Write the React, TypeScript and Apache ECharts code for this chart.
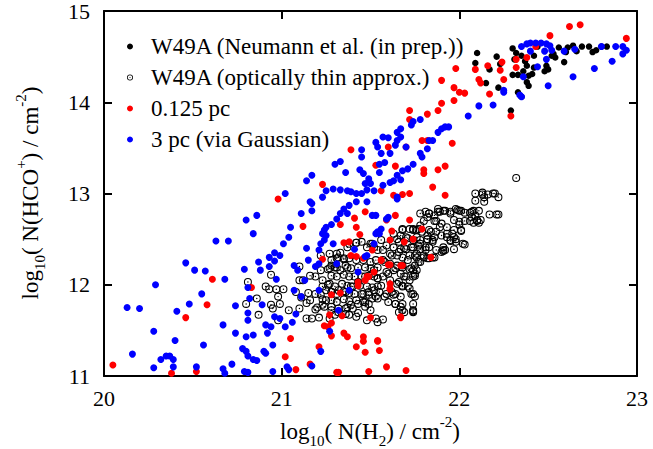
import React, { useEffect, useRef } from "react";
import * as echarts from "echarts";

// ---- data (log10 N(H2), log10 N(HCO+)) ----
const w49aNeumann: number[][] = [
  [22.10,14.54],[22.09,14.43],[22.17,14.36],[22.21,14.50],[22.23,14.42],[22.15,14.21],[22.22,14.16],[22.30,14.59],
  [22.32,14.54],[22.31,14.47],[22.35,14.51],[22.37,14.45],[22.38,14.40],[22.36,14.34],[22.33,14.30],[22.30,14.30],
  [22.39,14.29],[22.41,14.31],[22.38,14.22],[22.39,14.18],[22.33,14.11],[22.35,14.06],[22.29,13.91],[22.42,14.38],
  [22.42,14.51],[22.44,14.61],[22.49,14.40],[22.48,14.34],[22.50,14.36],[22.52,14.51],[22.54,14.49],[22.56,14.60],
  [22.59,14.44],[22.60,14.55],[22.64,14.62],[22.66,14.56],[22.69,14.61],[22.73,14.61],[22.75,14.55],[22.77,14.57],
  [22.80,14.61],[22.83,14.61],[22.53,14.53],[22.61,14.60]
];

const w49aThin: number[][] = [
  [20.81,12.03],[20.80,11.79],[20.86,11.85],[20.87,11.67],[20.91,11.98],[20.93,11.95],[20.94,11.78],[20.95,11.74],
  [20.97,11.95],[20.98,11.87],[20.98,11.61],[21.01,11.95],[21.04,11.72],[21.08,11.92],[21.10,12.20],[21.10,12.05],
  [21.10,11.74],[21.11,11.86],[21.14,11.63],[21.14,11.80],[21.15,11.91],[21.16,11.83],[21.17,11.63],[21.19,11.90],
  [21.19,11.73],[21.21,11.64],[21.22,12.16],[21.22,12.32],[21.23,11.98],[21.23,11.84],[21.23,11.78],[21.24,11.76],
  [21.26,12.17],[20.94,12.11],[20.99,11.79],[21.12,12.05],[21.16,12.10],[21.19,12.09],[21.20,11.75],[21.23,12.05],
  [21.25,11.94],[21.22,11.89],[21.25,11.83],[21.27,11.63],
  [21.27,12.34],[21.31,12.34],[21.33,12.35],[21.37,12.41],[21.38,12.45],[21.42,12.46],[21.45,12.47],[21.48,12.41],
  [21.51,12.45],[21.52,12.41],[21.54,12.38],
  [21.28,12.27],[21.31,12.29],[21.35,12.28],[21.38,12.29],[21.42,12.27],[21.46,12.27],[21.50,12.25],[21.53,12.27],
  [21.27,12.18],[21.30,12.19],[21.33,12.16],[21.37,12.19],[21.39,12.18],[21.43,12.19],[21.47,12.19],[21.50,12.18],
  [21.52,12.16],[21.54,12.19],
  [21.28,12.10],[21.31,12.09],[21.35,12.11],[21.38,12.09],[21.41,12.09],[21.45,12.09],[21.49,12.10],[21.52,12.09],
  [21.54,12.07],
  [21.27,12.01],[21.30,11.98],[21.34,12.01],[21.37,11.99],[21.40,11.98],[21.44,11.99],[21.48,11.98],[21.51,11.97],
  [21.54,11.98],
  [21.28,11.92],[21.31,11.90],[21.35,11.93],[21.38,11.91],[21.41,11.90],[21.46,11.90],[21.49,11.89],[21.53,11.87],
  [21.28,11.83],[21.31,11.81],[21.35,11.84],[21.38,11.82],[21.42,11.83],[21.46,11.81],[21.49,11.79],
  [21.28,11.76],[21.32,11.74],[21.37,11.75],[21.40,11.74],[21.43,11.69],[21.47,11.76],[21.50,11.72],
  [21.30,11.67],[21.36,11.68],[21.38,11.67],[21.42,11.65],[21.48,11.61],[21.54,11.59],
  [22.09,13.00],[22.13,13.01],[22.16,12.99],[22.20,13.00],[22.22,12.96],[22.14,12.96],[22.09,12.92],[22.17,12.77],
  [22.22,12.77],[22.32,13.17],
  [21.88,12.83],[21.89,12.80],[21.92,12.81],[21.95,12.80],[21.99,12.82],[22.00,12.81],[22.03,12.79],[22.06,12.79],
  [22.07,12.80],[22.09,12.76],[22.06,12.70],[22.08,12.68],[22.11,12.68],[22.03,12.70],[22.00,12.66],[22.01,12.59],
  [21.97,12.52],[21.98,12.47],[21.96,12.56],[21.93,12.52],[21.91,12.41],[21.91,12.38],[22.03,12.44],[21.95,12.48],
  [21.78,12.78],[21.81,12.80],[21.83,12.78],[21.86,12.70],[21.89,12.63],[21.84,12.58],[21.82,12.54],[21.78,12.65],
  [21.76,12.60],[21.72,12.61],[21.68,12.61],[21.67,12.54],[21.65,12.50],[21.66,12.47],[21.70,12.52],[21.74,12.49],
  [21.78,12.49],[21.82,12.50],[21.85,12.49],[21.87,12.38],[21.83,12.41],[21.81,12.38],[21.78,12.39],[21.74,12.41],
  [21.70,12.39],[21.67,12.39],[21.63,12.41],[21.59,12.43],[21.57,12.38],[21.61,12.34],[21.65,12.32],[21.68,12.30],
  [21.72,12.32],[21.76,12.30],[21.80,12.30],[21.83,12.29],[21.86,12.30],
  [21.57,12.27],[21.61,12.23],[21.65,12.21],[21.68,12.19],[21.72,12.17],[21.76,12.16],[21.67,12.12],[21.70,12.09],
  [21.74,12.09],[21.63,12.16],[21.59,12.14],[21.57,12.09],[21.61,12.05],[21.65,12.01],[21.68,11.99],[21.72,12.05],
  [21.75,12.12],[21.78,12.25],
  [21.55,11.92],[21.59,11.90],[21.63,11.89],[21.67,11.87],[21.72,11.96],[21.73,11.90],[21.75,11.87],[21.64,11.79],
  [21.67,11.76],[21.68,11.72],[21.66,11.70],[21.74,11.79],[21.74,11.70],[21.53,11.63],[21.57,11.62],
  [22.14,12.91],[22.02,12.45],[21.97,12.39],[21.91,12.37],[21.74,11.71],[22.10,12.70],[22.07,12.74],[22.08,12.81],
  [21.32,12.30],[21.35,12.29],[21.28,12.21],[21.31,12.19],[21.36,12.21],[21.58,12.25],[21.62,12.32],[21.66,12.36],
  [21.69,12.40],[21.73,12.41],[21.77,12.43],[21.75,12.32],[21.71,12.27],[21.68,12.21],[21.64,12.18],[21.60,12.12],
  [21.73,12.18],[21.77,12.25],[21.75,12.10],[21.69,12.09],[21.66,12.03],[21.62,11.92],[21.58,11.87],[21.54,11.85],
  [21.51,11.85],[21.47,11.81],[21.43,11.79],[21.39,11.78],[21.36,11.74],[21.32,11.70],[21.28,11.72],[21.26,12.00],
  [21.28,11.92],[21.32,11.94],[21.36,11.92],[21.39,11.98],[21.43,12.03],[21.47,12.09],[21.51,12.12],[21.54,12.07],
  [21.56,11.99],[21.52,11.94],[21.49,11.92],[21.45,11.90],[21.60,11.81],[21.64,11.79],[21.68,11.79],[21.74,11.72],
  [21.69,11.70],[21.64,11.90],[21.68,11.98],[21.71,11.98],[21.74,11.90],
  [21.68,12.60],[21.74,12.60],[21.77,12.61],[21.63,12.56],[21.56,12.49],[21.50,12.45],[21.42,12.46],[21.71,12.51],
  [21.76,12.52],
  [22.13,12.99],[22.19,13.00],[22.21,12.77],[22.11,12.81],[22.10,12.71],[22.12,12.71],[21.98,12.83],[22.01,12.81],
  [21.97,12.71],[22.00,12.69],[21.95,12.78],[21.91,12.81],[21.88,12.80],[21.86,12.76],[21.83,12.78],[21.82,12.74],
  [21.80,12.70],[21.87,12.70],[21.90,12.67],[21.93,12.63],[21.97,12.60],[22.01,12.60],[21.98,12.50],[21.95,12.49],
  [21.92,12.38],[21.90,12.36],[21.85,12.47],[21.82,12.50],[21.79,12.58],[21.74,12.61],[21.78,12.45],[21.81,12.41],
  [21.76,12.34],[21.80,12.32],[21.82,12.29],[21.85,12.30],[21.75,12.21],[21.74,12.16],[21.83,12.60],[21.87,12.58],
  [21.90,12.54],[21.86,12.52],[21.93,12.56]
];

const res0125pc: number[][] = [
  [22.62,14.83],[22.68,14.85],[22.51,14.73],[22.94,14.70],[22.43,14.61],[22.38,14.49],[22.32,14.47],[22.32,14.38],
  [22.24,14.44],[22.23,14.35],[22.16,14.40],[22.09,14.36],[21.98,14.37],[21.90,14.24],[22.11,14.25],[22.12,14.21],
  [22.17,14.09],[22.25,14.25],[21.97,14.16],[22.00,14.11],[22.03,14.10],[21.97,14.02],[21.90,13.99],[21.88,13.91],
  [21.82,13.87],[21.72,13.91],[22.29,13.85],
  [21.39,13.48],[21.60,13.51],[21.53,13.31],[21.64,13.30],[21.23,13.10],[21.56,13.03],[21.63,12.98],[21.72,13.81],
  [21.96,13.55],[21.92,13.30],[21.88,13.26],[21.79,13.58],[21.82,13.58],[21.70,13.51],[21.80,13.22],[21.80,13.26],
  [21.85,13.07],[21.92,12.98],[21.72,13.00],[21.68,12.99],
  [20.98,12.94],
  [20.05,11.12],[20.38,11.03],[20.46,11.64],[20.52,11.05],[20.58,11.78],[20.61,12.06],[20.83,11.97],[21.02,11.21],
  [21.05,11.41],[21.08,11.07],[21.12,12.64],[21.16,11.13],[21.23,12.28],[21.21,11.32],[21.24,11.55],
  [21.33,12.66],[21.41,12.73],[21.42,12.63],[21.44,12.55],[21.47,12.80],[21.35,12.46],[21.38,12.47],[21.39,12.32],
  [21.42,12.31],[21.46,12.29],[21.51,12.38],[21.52,12.14],[21.48,12.09],[21.47,12.05],[21.43,12.03],[21.43,11.99],
  [21.33,11.91],[21.28,11.89],[21.27,11.67],[21.28,11.58],[21.34,11.66],[21.50,11.64],[21.26,11.54],[21.28,11.44],
  [21.37,11.43],[21.42,11.32],[21.46,11.43],[21.46,11.38],[21.47,11.26],[21.54,11.38],[21.31,11.04],[21.32,11.04],
  [21.49,11.05],[21.55,11.28],[21.54,11.39],[21.59,11.10],[21.70,11.06],[21.35,11.47],
  [21.64,12.76],[21.72,12.71],[21.59,12.71],[21.62,12.59],[21.79,12.61],[21.74,12.50],[21.69,12.47],[21.61,12.49],
  [21.84,12.30],[21.56,12.27],[21.61,12.22],[21.68,12.21],[21.61,12.01],[21.61,11.96],[21.67,11.64],
  [21.56,12.27],[21.60,12.22],[21.67,12.21],[21.49,12.09],[21.61,11.95],[21.67,11.65]
];

const res3pc: number[][] = [
  [22.35,14.61],[22.38,14.64],[22.40,14.65],[22.43,14.65],[22.46,14.65],[22.49,14.64],[22.51,14.62],[22.52,14.57],
  [22.40,14.56],[22.48,14.56],[22.49,14.47],[22.44,14.39],[22.36,14.28],[22.50,14.18],[22.64,14.28],[22.59,14.56],
  [22.65,14.58],[22.76,14.37],[22.80,14.61],[22.86,14.45],[22.88,14.61],[22.92,14.61],[22.92,14.53],[22.94,14.57],
  [22.25,14.13],[22.25,14.11],[22.34,14.08],[22.35,14.06],[22.19,13.97],[22.11,13.96],[22.05,13.85],
  [21.30,13.32],[21.33,13.35],[21.36,13.23],[21.45,13.48],[21.45,13.40],[21.44,13.26],[21.46,13.22],[21.49,13.16],
  [21.50,13.11],[21.47,13.11],[21.53,13.56],[21.54,13.51],[21.57,13.62],[21.60,13.61],[21.56,13.44],[21.61,13.44],
  [21.55,13.32],[21.58,13.34],[21.55,13.23],[21.65,13.20],[21.63,13.14],[21.25,13.03],[21.29,13.05],[21.33,13.04],
  [21.37,13.03],[21.39,13.02],[21.42,13.00],[21.45,13.00],[21.48,13.04],[21.52,13.03],[21.57,13.09],[21.61,13.12],
  [21.67,13.15],
  [21.74,13.79],[21.78,13.81],[21.67,13.71],[21.65,13.67],[21.67,13.62],[21.65,13.58],[21.64,13.53],[21.70,13.51],
  [21.73,13.75],[21.88,13.67],[21.90,13.71],[21.92,13.73],[21.94,13.73],[21.85,13.58],[21.83,13.58],[21.82,13.49],
  [21.78,13.44],[21.79,13.40],[21.74,13.32],[21.71,13.27],[21.68,13.25],[21.65,12.96],
  [21.17,13.20],[21.14,13.14],
  [21.51,12.76],[21.53,12.76],[21.60,12.74],[21.48,12.91],[21.65,12.94],
  [21.28,12.66],[21.31,12.72],[21.33,12.78],[21.35,12.83],[21.38,12.87],[21.42,12.91],[21.37,12.78],[21.29,12.45],
  [21.31,12.23],[21.38,11.94],[21.43,12.14],[21.41,12.39],[21.48,12.32],[21.52,12.45],[21.53,12.56],[21.54,12.58],
  [21.32,11.72],[21.27,11.49],[21.47,12.31],
  [21.59,12.72],[21.55,12.56],[21.56,12.61],
  [21.23,12.56],[21.24,12.60],[21.25,12.54],[21.24,12.49],[21.22,12.45],[21.21,12.38],[21.25,12.63],[21.19,12.20],
  [21.21,12.23],
  [20.13,11.75],[20.20,11.74],[20.29,12.00],[20.28,11.49],[20.16,11.24],[20.28,11.09],[20.32,11.18],[20.35,11.22],
  [20.37,11.22],[20.39,11.18],[20.39,11.10],[20.40,11.39],[20.41,11.71],[20.46,12.24],[20.48,11.79],[20.51,12.16],
  [20.52,11.10],[20.56,11.34],[20.55,11.90],[20.57,12.15],[20.63,12.48],[20.67,11.56],[20.67,11.08],[20.68,11.03],
  [20.68,12.06],[20.70,12.48],[20.72,11.13],[20.74,11.77],[20.74,11.47],[20.78,11.30],[20.79,12.17],[20.80,12.71],
  [20.81,11.97],[20.80,11.43],[20.81,11.61],[20.81,11.69],[20.80,11.27],[20.81,11.22],[20.79,11.05],[20.81,11.04],
  [20.82,11.85],[20.84,12.56],[20.86,12.76],[20.84,11.45],[20.84,11.18],[20.86,11.17],[20.87,12.25],[20.88,12.16],
  [20.89,11.78],[20.90,11.27],[20.91,11.56],[20.91,11.25],[20.92,11.47],[20.93,12.20],[20.93,12.30],[20.94,11.54],
  [20.95,11.05],[20.95,11.34],[20.96,11.65],[20.96,12.35],[20.96,12.26],[20.97,12.06],[20.99,12.32],[20.99,11.63],
  [21.01,12.45],[21.02,11.54],[21.02,13.00],[21.03,11.10],[21.04,11.07],[21.04,12.52],[21.05,12.63],[21.06,11.59],
  [21.07,11.94],[21.07,12.21],[21.08,11.68],[21.09,12.16],[21.11,12.78],[21.11,11.87],[21.13,12.05],[21.14,12.40],
  [21.15,12.27],[21.16,12.91],[21.17,12.89],[21.17,12.81],[21.17,11.11],[21.22,11.27],[21.23,12.96],[21.21,11.94]
];

const xTicks = { min: 20, max: 23, interval: 1 };
const yTicks = { min: 11, max: 15, interval: 1 };
const seriesNames = [
  "W49A (Neumann et al. (in prep.))",
  "W49A (optically thin approx.)",
  "0.125 pc",
  "3 pc (via Gaussian)",
];

const FONT = "'Liberation Serif', 'Times New Roman', 'DejaVu Serif', serif";
const RING =
  "path://M0,10A10,10,0,1,0,20,10A10,10,0,1,0,0,10ZM2.6,10A7.4,7.4,0,1,1,17.4,10A7.4,7.4,0,1,1,2.6,10ZM8.2,10A1.8,1.8,0,1,0,11.8,10A1.8,1.8,0,1,0,8.2,10Z";

const rich = {
  a: { fontFamily: FONT, fontSize: 23, lineHeight: 34, fill: "#000", color: "#000" },
  b: { fontFamily: FONT, fontSize: 15, lineHeight: 15, verticalAlign: "bottom", fill: "#000", color: "#000" },
  c: { fontFamily: FONT, fontSize: 15, lineHeight: 15, verticalAlign: "top", fill: "#000", color: "#000" },
};

export default function App() {
  const ref = useRef<HTMLDivElement>(null);
  useEffect(() => {
    if (!ref.current) return;
    const chart = echarts.init(ref.current, undefined, { renderer: "svg" });
    const axisCommon = {
      type: "value" as const,
      axisLine: { show: true, onZero: false, lineStyle: { color: "#000", width: 2 } },
      axisTick: { show: true, inside: true, length: 8, lineStyle: { color: "#000", width: 2 } },
      splitLine: { show: false },
    };
    chart.setOption({
      animation: false,
      backgroundColor: "#fff",
      textStyle: { fontFamily: FONT },
      grid: { left: 104, top: 10, right: 16, bottom: 73 },
      xAxis: [
        {
          ...axisCommon,
          ...xTicks,
          position: "bottom",
          axisLabel: { color: "#000", fontFamily: FONT, fontSize: 22, margin: 11 },
        },
        { ...axisCommon, ...xTicks, position: "top", axisLabel: { show: false } },
      ],
      yAxis: [
        {
          ...axisCommon,
          ...yTicks,
          position: "left",
          axisLabel: { color: "#000", fontFamily: FONT, fontSize: 22, margin: 14 },
        },
        { ...axisCommon, ...yTicks, position: "right", axisLabel: { show: false } },
      ],
      legend: {
        orient: "vertical",
        left: 127,
        top: 35,
        padding: 0,
        itemWidth: 32,
        itemHeight: 6,
        itemGap: 8,
        textStyle: { fontFamily: FONT, fontSize: 23, color: "#000", lineHeight: 23 },
        data: seriesNames,
      },
      graphic: [
        {
          type: "text",
          x: 370,
          y: 431,
          style: {
            text: "{a|log}{b|10}{a|( N(H}{b|2}{a|) / cm}{c|-2}{a|)}",
            rich,
            font: "23px " + FONT,
            align: "center",
            verticalAlign: "middle",
          },
        },
        {
          type: "text",
          x: 30,
          y: 193,
          rotation: Math.PI / 2,
          style: {
            text: "{a|log}{b|10}{a|( N(HCO}{c|+}{a|) / cm}{c|-2}{a|)}",
            rich,
            font: "23px " + FONT,
            align: "center",
            verticalAlign: "middle",
          },
        },
      ],
      series: [
        {
          name: seriesNames[0],
          type: "scatter",
          data: w49aNeumann,
          symbol: "circle",
          symbolSize: 6.5,
          itemStyle: { color: "#000", opacity: 1 },
        },
        {
          name: seriesNames[1],
          type: "scatter",
          data: w49aThin,
          symbol: RING,
          symbolSize: 8,
          itemStyle: { color: "#000", opacity: 1 },
        },
        {
          name: seriesNames[2],
          type: "scatter",
          data: res0125pc,
          symbol: "circle",
          symbolSize: 7,
          itemStyle: { color: "#ff0000", opacity: 1 },
        },
        {
          name: seriesNames[3],
          type: "scatter",
          data: res3pc,
          symbol: "circle",
          symbolSize: 7,
          itemStyle: { color: "#0000ff", opacity: 1 },
        },
      ],
    });
    return () => chart.dispose();
  }, []);
  return (
    <div
      ref={ref}
      style={{ position: "fixed", left: 0, top: 0, width: 653, height: 449, background: "#fff" }}
    />
  );
}
